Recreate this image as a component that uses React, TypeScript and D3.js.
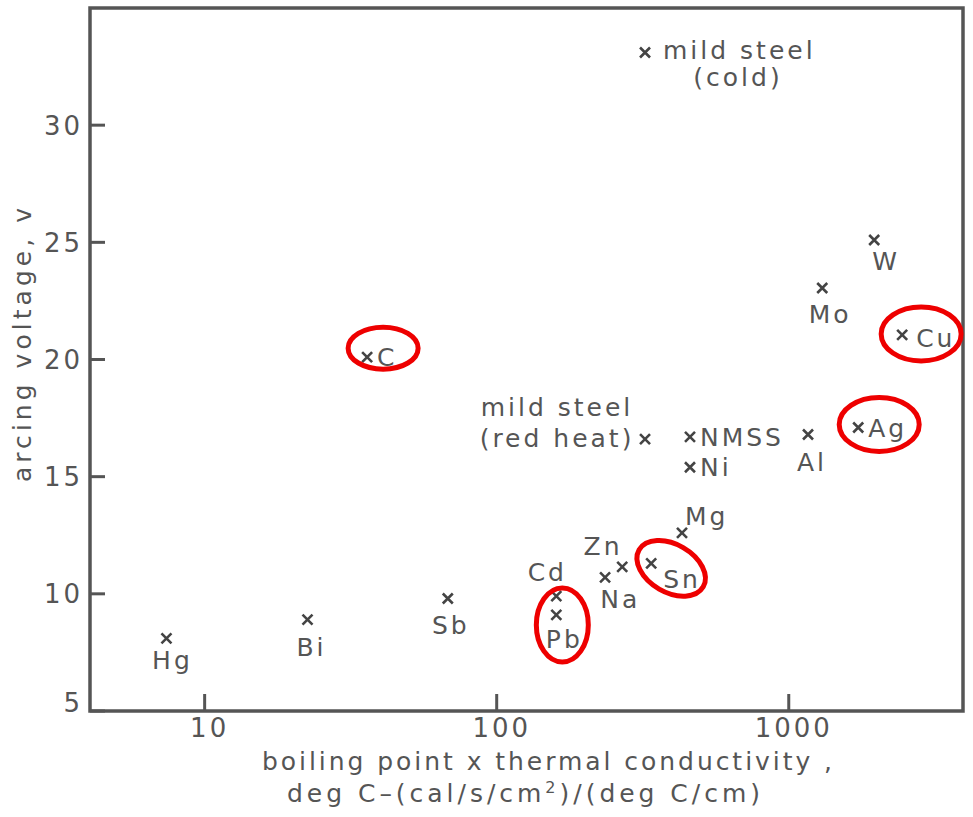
import React from "react";
import * as d3 from "d3";

// Arcing voltage versus (boiling point x thermal conductivity) for electrode materials
const materials = [
  "Hg", "Bi", "Sb", "Cd", "Pb", "Zn", "Na", "Sn", "Mg",
  "mild steel (red heat)", "NMSS", "Ni", "Al", "Ag", "Cu", "Mo", "W",
  "mild steel (cold)", "C",
];
const productValues = [
  7.4, 22.5, 68, 160, 160, 235, 269, 338, 431,
  322, 459, 459, 1164, 1729, 2445, 1302, 1961,
  322, 36,
];
const arcingVoltage = [
  8.1, 8.9, 9.8, 9.9, 9.1, 10.7, 11.15, 11.3, 12.6,
  16.6, 16.7, 15.4, 16.8, 17.1, 21.05, 23.05, 25.1,
  33.1, 20.1,
];
const labelLines: string[][] = [
  ["Hg"], ["Bi"], ["Sb"], ["Cd"], ["Pb"], ["Zn"], ["Na"], ["Sn"], ["Mg"],
  ["mild steel", "(red heat)"], ["NMSS"], ["Ni"], ["Al"], ["Ag"], ["Cu"], ["Mo"], ["W"],
  ["mild steel", "(cold)"], ["C"],
];
const highlighted = ["C", "Pb", "Sn", "Ag", "Cu"];

const xTicks = [10, 100, 1000];
const yTicks = [5, 10, 15, 20, 25, 30];
const xDomain = [4.05, 3950];
const yDomain = [5, 35];

// Label placement relative to each marker: one entry per label line
type Place = { dx: number; dy: number; anchor: "start" | "middle" | "end" };
const placements: Record<string, Place[]> = {
  Hg: [{ dx: 6, dy: 31, anchor: "middle" }],
  Bi: [{ dx: 4, dy: 36, anchor: "middle" }],
  Sb: [{ dx: 3, dy: 35, anchor: "middle" }],
  Cd: [{ dx: -9, dy: -15, anchor: "middle" }],
  Pb: [{ dx: 8, dy: 33, anchor: "middle" }],
  Zn: [{ dx: -2, dy: -22, anchor: "middle" }],
  Na: [{ dx: -2, dy: 41, anchor: "middle" }],
  Sn: [{ dx: 12, dy: 25, anchor: "start" }],
  Mg: [{ dx: 3, dy: -8, anchor: "start" }],
  "mild steel (red heat)": [
    { dx: -88, dy: -23, anchor: "middle" },
    { dx: -88, dy: 8, anchor: "middle" },
  ],
  NMSS: [{ dx: 10, dy: 9, anchor: "start" }],
  Ni: [{ dx: 10, dy: 9, anchor: "start" }],
  Al: [{ dx: 4, dy: 37, anchor: "middle" }],
  Ag: [{ dx: 10, dy: 10, anchor: "start" }],
  Cu: [{ dx: 14, dy: 12, anchor: "start" }],
  Mo: [{ dx: 8, dy: 35, anchor: "middle" }],
  W: [{ dx: 12, dy: 30, anchor: "middle" }],
  "mild steel (cold)": [
    { dx: 18, dy: 6, anchor: "start" },
    { dx: 93, dy: 33, anchor: "middle" },
  ],
  C: [{ dx: 10, dy: 9, anchor: "start" }],
};

// Red ring around selected points: centre offset, radii, rotation
const rings: Record<string, { ox: number; oy: number; rx: number; ry: number; rot: number }> = {
  C: { ox: 16, oy: -9, rx: 35, ry: 21, rot: 0 },
  Pb: { ox: 6, oy: 10, rx: 26, ry: 37, rot: 0 },
  Sn: { ox: 20, oy: 5, rx: 37, ry: 24, rot: 30 },
  Ag: { ox: 21, oy: -3, rx: 40, ry: 27, rot: 0 },
  Cu: { ox: 19, oy: -1, rx: 40, ry: 27, rot: 0 },
};

const W = 973;
const H = 817;
const plot = { left: 90, right: 963, top: 8, bottom: 711 };
const ink = "#555";
const font = "'DejaVu Sans', sans-serif";

export default function App() {
  const x = d3.scaleLog().domain(xDomain).range([plot.left, plot.right]);
  const y = d3.scaleLinear().domain(yDomain).range([plot.bottom, plot.top]);
  const tickLen = 17;
  const m = 5;

  return (
    <svg
      width={W}
      height={H}
      viewBox={`0 0 ${W} ${H}`}
      style={{ position: "absolute", left: 0, top: 0, background: "#fff" }}
      fontFamily={font}
    >
      <rect x={0} y={0} width={W} height={H} fill="#fff" />
      {/* frame */}
      <rect
        x={plot.left}
        y={plot.top}
        width={plot.right - plot.left}
        height={plot.bottom - plot.top}
        fill="none"
        stroke={ink}
        strokeWidth={3.5}
      />
      {/* y ticks */}
      {yTicks.map((t) => (
        <g key={`y${t}`}>
          <line x1={plot.left} x2={plot.left + tickLen - 2} y1={y(t)} y2={y(t)} stroke={ink} strokeWidth={3} />
          <text
            x={83}
            y={y(t)}
            dy={t === 5 ? "0.05em" : "0.36em"}
            textAnchor="end"
            fontSize={26}
            letterSpacing={3}
            fill={ink}
          >
            {t}
          </text>
        </g>
      ))}
      {/* x ticks */}
      {xTicks.map((t) => (
        <g key={`x${t}`}>
          <line x1={x(t)} x2={x(t)} y1={plot.bottom} y2={plot.bottom - tickLen} stroke={ink} strokeWidth={3} />
          <text x={x(t) + 5} y={737} textAnchor="middle" fontSize={26} letterSpacing={3} fill={ink}>
            {t}
          </text>
        </g>
      ))}
      {/* axis titles */}
      <text x={262} y={770} fontSize={25} fill={ink} textLength={570} lengthAdjust="spacing">
        boiling point x thermal conductivity ,
      </text>
      <text x={287} y={802} fontSize={25} fill={ink} textLength={473} lengthAdjust="spacing">
        deg C–(cal/s/cm
        <tspan dy={-9} fontSize={16}>2</tspan>
        <tspan dy={9}>)/(deg C/cm)</tspan>
      </text>
      <text
        transform={`translate(31,345) rotate(-90)`}
        textAnchor="middle"
        fontSize={25}
        textLength={274}
        lengthAdjust="spacing"
        fill={ink}
      >
        arcing voltage, v
      </text>
      {/* points */}
      {materials.map((name, i) => {
        const px = x(productValues[i]);
        const py = y(arcingVoltage[i]);
        const pl = placements[name];
        return (
          <g key={name}>
            <path
              d={`M${px - m},${py - m}L${px + m},${py + m}M${px + m},${py - m}L${px - m},${py + m}`}
              stroke="#444"
              strokeWidth={2.6}
            />
            {labelLines[i].map((line, j) => (
              <text
                key={j}
                x={px + pl[j].dx}
                y={py + pl[j].dy}
                textAnchor={pl[j].anchor}
                fontSize={25}
                letterSpacing={3}
                fill={ink}
              >
                {line}
              </text>
            ))}
          </g>
        );
      })}
      {/* highlight rings */}
      {materials.map((name, i) => {
        if (!highlighted.includes(name)) return null;
        const r = rings[name];
        const cx = x(productValues[i]) + r.ox;
        const cy = y(arcingVoltage[i]) + r.oy;
        return (
          <ellipse
            key={`ring-${name}`}
            cx={cx}
            cy={cy}
            rx={r.rx}
            ry={r.ry}
            transform={`rotate(${r.rot},${cx},${cy})`}
            fill="none"
            stroke="#ee0000"
            strokeWidth={5}
          />
        );
      })}
    </svg>
  );
}
